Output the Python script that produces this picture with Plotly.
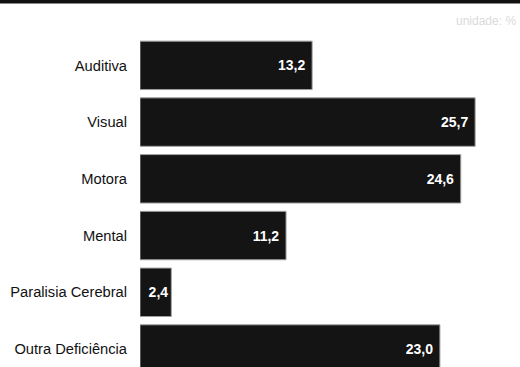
import plotly.graph_objects as go

categories = ["Auditiva", "Visual", "Motora", "Mental", "Paralisia Cerebral", "Outra Deficiência"]
values = [13.2, 25.7, 24.6, 11.2, 2.4, 23.0]
value_labels = ["13,2", "25,7", "24,6", "11,2", "2,4", "23,0"]

W, H = 520, 367
top_m = 36.6
plot_h = H - top_m
pitch = 56.8
n_visible = plot_h / pitch

templates = ["%{text}" if v < 5 else "%{text}\u00a0" for v in values]

fig = go.Figure(go.Bar(
    y=categories, x=values, orientation="h",
    text=value_labels, texttemplate=templates,
    textposition="inside", insidetextanchor="end",
    textfont=dict(family="Liberation Sans, Arial, sans-serif", size=14, color="white", weight="bold"),
    marker=dict(color="#141414", line=dict(color="#a0a0a0", width=1)),
    width=0.854, cliponaxis=True,
))

fig.update_layout(
    width=W, height=H,
    margin=dict(l=140, r=0, t=top_m, b=0),
    paper_bgcolor="white", plot_bgcolor="white",
    showlegend=False,
    font=dict(family="Liberation Sans, Arial, sans-serif", size=14.7, color="#111"),
    xaxis=dict(range=[0, (W - 140) / 13.04], visible=False, fixedrange=True),
    yaxis=dict(type="category", categoryorder="array", categoryarray=categories,
               range=[n_visible - 0.5, -0.5], showgrid=False, zeroline=False,
               showline=False, ticks="outside", ticklen=9, tickcolor="rgba(0,0,0,0)",
               tickfont=dict(size=14.7, color="#111")),
)

# dark title band at the very top (cropped)
fig.add_shape(type="rect", xref="paper", yref="paper",
              x0=-140 / (W - 140), x1=1.01, y0=1 + (top_m - 3) / plot_h, y1=1 + (top_m + 5) / plot_h,
              fillcolor="#111111", line=dict(width=0), layer="above")

fig.add_annotation(text="unidade: %", xref="paper", yref="paper",
                   x=1, y=1 + (top_m - 21) / plot_h, xanchor="right", yanchor="middle",
                   showarrow=False, xshift=-2,
                   font=dict(family="Liberation Sans, Arial, sans-serif", size=12, color="#dadada"))

fig.write_html("out.html")
